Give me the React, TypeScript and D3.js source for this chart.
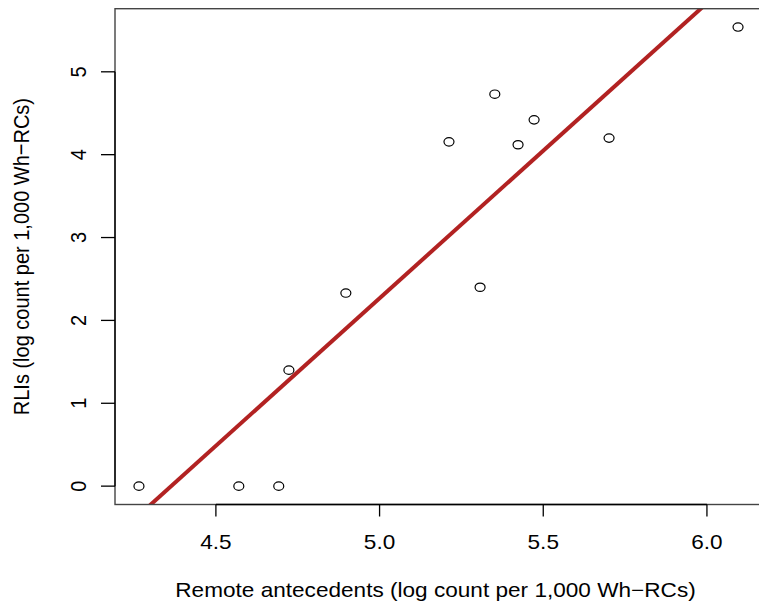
import React from "react";
import * as d3 from "d3";

// log counts per 1,000 Wh-RCs
const remoteAntecedents = [4.265, 4.57, 4.692, 4.723, 4.897, 5.212, 5.307, 5.352, 5.423, 5.472, 5.701, 6.095];
const rlis = [0, 0, 0, 1.4, 2.33, 4.155, 2.4, 4.73, 4.12, 4.42, 4.2, 5.54];
const xTicks = [4.5, 5.0, 5.5, 6.0];
const yTicks = [0, 1, 2, 3, 4, 5];

const W = 759;
const H = 601;
const FONT = "'Liberation Sans', Arial, Helvetica, sans-serif";
const SX = 1.13; // the picture is a bit stretched horizontally

// R style axis range: data range plus 4% each side
const padRange = (v: number[]): [number, number] => {
  const [lo, hi] = d3.extent(v) as [number, number];
  const d = (hi - lo) * 0.04;
  return [lo - d, hi + d];
};

const fitLine = (xs: number[], ys: number[]) => {
  const mx = d3.mean(xs)!;
  const my = d3.mean(ys)!;
  const sxy = d3.sum(xs, (x, i) => (x - mx) * (ys[i] - my));
  const sxx = d3.sum(xs, (x) => (x - mx) * (x - mx));
  const b = sxy / sxx;
  return { a: my - b * mx, b };
};

export default function App() {
  const x = d3.scaleLinear().domain(padRange(remoteAntecedents)).range([115, 762]);
  const y = d3.scaleLinear().domain(padRange(rlis)).range([504.5, 8.7]);
  const [x0, x1] = x.range();
  const [y0, y1] = y.range();

  const { a, b } = fitLine(remoteAntecedents, rlis);
  const [dx0, dx1] = x.domain();
  const line = d3.line<number>()
    .x((d) => x(d))
    .y((d) => y(a + b * d));

  return (
    <svg width={W} height={H} style={{ position: "absolute", left: 0, top: 0, background: "#fff" }}
      fontFamily={FONT}>
      <defs>
        <clipPath id="plot">
          <rect x={x0} y={y1} width={x1 - x0} height={y0 - y1} />
        </clipPath>
      </defs>

      {/* points */}
      {remoteAntecedents.map((v, i) => (
        <ellipse key={i} cx={x(v)} cy={y(rlis[i])} rx={5} ry={4.2}
          fill="none" stroke="#000" strokeWidth={1.2} />
      ))}

      {/* fitted line */}
      <path d={line([dx0, dx1]) ?? ""} clipPath="url(#plot)"
        stroke="#B22222" strokeWidth={4} fill="none" />

      {/* box */}
      <rect x={x0} y={y1} width={x1 - x0} height={y0 - y1}
        fill="none" stroke="#444" strokeWidth={1.4} />

      {/* x axis */}
      <line x1={x(xTicks[0])} x2={x(xTicks[xTicks.length - 1])} y1={y0} y2={y0}
        stroke="#000" strokeWidth={1.3} />
      {xTicks.map((t) => (
        <g key={t}>
          <line x1={x(t)} x2={x(t)} y1={y0} y2={y0 + 12} stroke="#000" strokeWidth={1.3} />
          <text transform={`translate(${x(t)},549) scale(${SX},1)`} textAnchor="middle"
            fontSize={20} fill="#000">{t.toFixed(1)}</text>
        </g>
      ))}

      {/* y axis */}
      <line x1={x0} x2={x0} y1={y(yTicks[0])} y2={y(yTicks[yTicks.length - 1])}
        stroke="#000" strokeWidth={1.3} />
      {yTicks.map((t) => (
        <g key={t}>
          <line x1={x0} x2={x0 - 14} y1={y(t)} y2={y(t)} stroke="#000" strokeWidth={1.3} />
          <text transform={`translate(86,${y(t)}) scale(${SX},1) rotate(-90)`} textAnchor="middle"
            fontSize={20} fill="#000">{t}</text>
        </g>
      ))}

      {/* axis titles */}
      <text transform={`translate(${(x0 + x1) / 2 - 3},597) scale(${SX},1)`} textAnchor="middle"
        fontSize={20} fill="#000">Remote antecedents (log count per 1,000 Wh−RCs)</text>
      <text transform={`translate(29,${(y0 + y1) / 2}) scale(${SX},1) rotate(-90)`} textAnchor="middle"
        fontSize={20} fill="#000">RLIs (log count per 1,000 Wh−RCs)</text>
    </svg>
  );
}
